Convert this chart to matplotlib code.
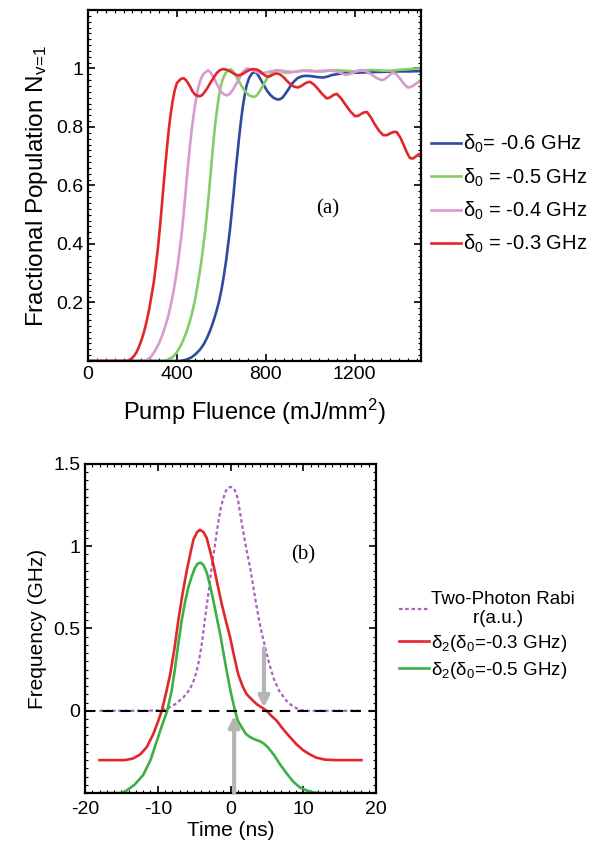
import matplotlib
matplotlib.use("Agg")
import matplotlib.pyplot as plt
from matplotlib.ticker import MultipleLocator

plt.rcParams["font.family"] = ["Liberation Sans", "DejaVu Sans"]
plt.rcParams["mathtext.fontset"] = "custom"
plt.rcParams["mathtext.rm"] = "Liberation Sans"
plt.rcParams["mathtext.it"] = "Liberation Sans:italic"
plt.rcParams["mathtext.bf"] = "Liberation Sans:bold"
plt.rcParams["axes.unicode_minus"] = False

# ---- panel (a): fractional population vs pump fluence (mJ/mm^2) ----
blue_x = [0, 414, 440, 465, 485, 503, 519, 535, 550, 564, 578, 590, 601, 611, 621, 630, 639, 647,
          655, 662, 670, 678, 686, 694, 703, 713, 725, 738, 752, 763, 775, 790, 805, 820, 835, 848,
          861, 875, 890, 903, 915, 930, 945, 962, 980, 1000, 1020, 1040, 1059, 1080, 1100, 1125,
          1150, 1185, 1220, 1260, 1300, 1350, 1400, 1450, 1500]
blue_y = [0, 0, 0.004, 0.012, 0.024, 0.038, 0.055, 0.078, 0.105, 0.135, 0.17, 0.205, 0.245, 0.29,
          0.34, 0.395, 0.45, 0.51, 0.57, 0.63, 0.69, 0.75, 0.805, 0.855, 0.9, 0.94, 0.968, 0.983,
          0.989, 0.98, 0.965, 0.945, 0.925, 0.91, 0.9, 0.895, 0.894, 0.9, 0.915, 0.93, 0.945, 0.958,
          0.968, 0.973, 0.975, 0.974, 0.972, 0.97, 0.969, 0.973, 0.978, 0.981, 0.984, 0.985, 0.986,
          0.987, 0.988, 0.989, 0.99, 0.99, 0.991]

green_x = [0, 338, 360, 380, 398, 414, 428, 442, 455, 467, 479, 490, 500, 510, 519, 528, 536, 543,
           550, 557, 564, 571, 579, 587, 596, 606, 620, 631, 642, 653, 665, 680, 695, 710, 725, 738,
           750, 762, 775, 790, 805, 820, 835, 849, 870, 890, 915, 940, 970, 1000, 1030, 1060, 1090,
           1120, 1160, 1200, 1240, 1280, 1320, 1360, 1395, 1430, 1465, 1500]
green_y = [0, 0, 0.005, 0.013, 0.028, 0.048, 0.07, 0.097, 0.127, 0.16, 0.2, 0.245, 0.29, 0.34,
           0.395, 0.45, 0.51, 0.565, 0.625, 0.685, 0.745, 0.8, 0.85, 0.895, 0.935, 0.963, 0.985,
           0.994, 0.997, 0.99, 0.975, 0.955, 0.935, 0.919, 0.908, 0.904, 0.903, 0.91, 0.925, 0.945,
           0.965, 0.98, 0.99, 0.994, 0.99, 0.985, 0.987, 0.99, 0.993, 0.993, 0.99, 0.99, 0.993,
           0.994, 0.992, 0.99, 0.993, 0.995, 0.993, 0.992, 0.995, 0.997, 0.999, 1.0]

pink_x = [0, 248, 265, 280, 295, 309, 322, 335, 348, 360, 372, 384, 394, 404, 413, 422, 430, 437,
          444, 452, 460, 468, 477, 486, 496, 507, 520, 541, 553, 565, 580, 595, 610, 625, 637, 650,
          665, 680, 697, 714, 730, 745, 763, 782, 800, 820, 845, 870, 895, 920, 945, 970, 995, 1020,
          1045, 1070, 1095, 1120, 1140, 1160, 1178, 1195, 1212, 1230, 1253, 1275, 1298, 1320, 1335,
          1350, 1362, 1374, 1390, 1405, 1422, 1440, 1455, 1470, 1485, 1500]
pink_y = [0, 0, 0.004, 0.012, 0.027, 0.045, 0.065, 0.09, 0.12, 0.15, 0.19, 0.235, 0.28, 0.33,
          0.385, 0.44, 0.5, 0.56, 0.62, 0.685, 0.745, 0.8, 0.85, 0.895, 0.935, 0.963, 0.982, 0.994,
          0.985, 0.97, 0.947, 0.925, 0.912, 0.908, 0.913, 0.925, 0.945, 0.965, 0.988, 1.0, 0.998,
          0.993, 0.986, 0.983, 0.986, 0.99, 0.993, 0.993, 0.99, 0.988, 0.99, 0.992, 0.991, 0.99,
          0.992, 0.993, 0.992, 0.99, 0.984, 0.978, 0.981, 0.986, 0.992, 0.995, 0.99, 0.98, 0.968,
          0.96, 0.963, 0.972, 0.981, 0.987, 0.978, 0.965, 0.947, 0.935, 0.937, 0.945, 0.953, 0.96]

red_x = [0, 174, 190, 205, 218, 230, 242, 254, 265, 276, 286, 296, 306, 315, 324, 332, 340, 348,
         356, 364, 372, 381, 390, 400, 414, 423, 432, 441, 450, 460, 470, 480, 490, 504, 515, 525,
         537, 550, 565, 580, 593, 607, 623, 640, 657, 675, 692, 710, 727, 744, 760, 775, 790, 806,
         818, 830, 841, 852, 866, 880, 895, 910, 927, 945, 960, 975, 988, 1000, 1017, 1035, 1055,
         1074, 1087, 1100, 1110, 1120, 1140, 1160, 1181, 1202, 1216, 1230, 1243, 1256, 1273, 1290,
         1310, 1329, 1345, 1360, 1375, 1389, 1405, 1420, 1435, 1449, 1462, 1475, 1488, 1500]
red_y = [0, 0, 0.005, 0.015, 0.03, 0.05, 0.075, 0.105, 0.14, 0.18, 0.225, 0.27, 0.33, 0.39, 0.46,
         0.53, 0.6, 0.67, 0.735, 0.795, 0.845, 0.89, 0.925, 0.95, 0.962, 0.966, 0.966, 0.96, 0.95,
         0.937, 0.922, 0.912, 0.907, 0.905, 0.91, 0.92, 0.933, 0.95, 0.968, 0.985, 0.994, 0.998,
         0.996, 0.99, 0.982, 0.976, 0.98, 0.988, 0.995, 0.998, 0.996, 0.99, 0.98, 0.972, 0.973,
         0.978, 0.982, 0.983, 0.979, 0.97, 0.958, 0.947, 0.938, 0.935, 0.94, 0.948, 0.953, 0.954,
         0.945, 0.93, 0.912, 0.898, 0.9, 0.907, 0.911, 0.913, 0.897, 0.875, 0.853, 0.837, 0.838,
         0.845, 0.85, 0.851, 0.833, 0.81, 0.787, 0.772, 0.772, 0.778, 0.783, 0.783, 0.765, 0.74,
         0.713, 0.694, 0.692, 0.699, 0.706, 0.71]

labels_a = ["δ$_0$= -0.6 GHz", "δ$_0$ = -0.5 GHz", "δ$_0$ = -0.4 GHz", "δ$_0$ = -0.3 GHz"]
colors_a = ["#2c4c9e", "#86cc68", "#d99ad2", "#e3262a"]

# ---- panel (b): frequencies (GHz) vs time (ns) ----
rabi_t = [-18, -12, -10, -8.8, -7.6, -6.5, -5.6, -4.9, -4.4, -4.0, -3.65, -3.3, -2.9, -2.6, -2.1,
          -1.7, -1.35, -1.0, -0.6, -0.3, 0.0, 0.3, 0.6, 1.0, 1.55, 2.1, 2.7, 3.15, 3.6, 4.15, 4.75,
          5.3, 5.9, 6.7, 7.7, 8.6, 9.6, 10.5, 18]
rabi_y = [0, 0, 0.002, 0.01, 0.04, 0.08, 0.13, 0.2, 0.29, 0.39, 0.51, 0.63, 0.76, 0.87, 1.02,
          1.14, 1.23, 1.29, 1.34, 1.357, 1.36, 1.357, 1.34, 1.29, 1.14, 1.0, 0.87, 0.75, 0.63, 0.5,
          0.39, 0.29, 0.2, 0.12, 0.06, 0.025, 0.005, 0, 0]

d2_03_t = [-18, -14.5, -13.4, -12.4, -11.5, -10.6, -10.0, -9.45, -8.9, -8.3, -7.7, -7.17, -6.6,
           -6.02, -5.5, -5.1, -4.6, -4.2, -3.7, -3.27, -2.8, -2.36, -1.8, -1.21, -0.6, -0.07, 0.5,
           1.07, 1.65, 2.23, 2.9, 3.6, 4.3, 4.97, 5.6, 6.34, 7.2, 8.17, 9.1, 10, 10.9, 11.8, 13,
           14.5, 18]
d2_03_y = [-0.3, -0.3, -0.29, -0.265, -0.22, -0.14, -0.07, 0.0, 0.1, 0.22, 0.38, 0.55, 0.71,
           0.85, 0.96, 1.04, 1.085, 1.1, 1.085, 1.05, 0.97, 0.89, 0.77, 0.65, 0.54, 0.45, 0.33,
           0.22, 0.15, 0.1, 0.07, 0.04, 0.02, 0.0, -0.03, -0.06, -0.11, -0.16, -0.205, -0.24,
           -0.265, -0.285, -0.297, -0.3, -0.3]

d2_05_t = [-18, -15, -14.3, -13.2, -12, -11, -10.1, -9.5, -8.7, -8.1, -7.62, -7.2, -6.7, -6.25,
           -5.8, -5.3, -4.88, -4.5, -4.1, -3.7, -3.27, -2.8, -2.36, -1.9, -1.44, -1.0, -0.52,
           0.05, 0.62, 1.0, 1.54, 2.1, 2.68, 3.4, 4.05, 4.6, 5.2, 6.0, 6.8, 7.7, 8.6, 9.5, 10.5,
           11.5, 12.3, 14, 18]
d2_05_y = [-0.5, -0.5, -0.485, -0.45, -0.39, -0.3, -0.18, -0.1, 0.0, 0.12, 0.26, 0.4, 0.55, 0.66,
           0.75, 0.82, 0.87, 0.895, 0.9, 0.885, 0.84, 0.76, 0.67, 0.57, 0.47, 0.36, 0.24, 0.11,
           0.0, -0.06, -0.1, -0.14, -0.16, -0.175, -0.185, -0.2, -0.225, -0.27, -0.325, -0.38,
           -0.43, -0.465, -0.485, -0.497, -0.5, -0.5, -0.5]

arrow_t = [0.5, 4.6]
arrow_from = [-0.5, 0.38]
arrow_to = [-0.03, 0.02]


def style_axes(ax, size):
    for s in ax.spines.values():
        s.set_linewidth(1.6)
    ax.tick_params(which="both", direction="in", top=True, right=True, labelsize=size)
    ax.tick_params(which="major", length=5, width=1.2)
    ax.tick_params(which="minor", length=2.5, width=0.8)


fig = plt.figure(figsize=(5.95, 8.46), dpi=100)

ax1 = fig.add_axes([0.148, 0.5733, 0.560, 0.4149])
curves_a = [(blue_x, blue_y), (green_x, green_y), (pink_x, pink_y), (red_x, red_y)]
for (x, y), c, lab in zip(curves_a, colors_a, labels_a):
    ax1.plot(x, y, color=c, lw=1.9, label=lab)
ax1.set_xlim(0, 1500)
ax1.set_ylim(0, 1.2)
ax1.set_xticks([0, 400, 800, 1200])
ax1.set_yticks([0.2, 0.4, 0.6, 0.8, 1.0])
ax1.set_yticklabels(["0.2", "0.4", "0.6", "0.8", "1"])
ax1.xaxis.set_minor_locator(MultipleLocator(40))
ax1.yaxis.set_minor_locator(MultipleLocator(0.02))
style_axes(ax1, 14)
ax1.set_xlabel(r"Pump Fluence (mJ/mm$^2$)", fontsize=17, labelpad=10)
ax1.set_ylabel(r"Fractional Population N$_{\mathrm{v\!=\!1}}$", fontsize=17.5, labelpad=4)
ax1.text(1080, 0.52, "(a)", family="Liberation Serif", fontsize=15, ha="center", va="center")
ax1.legend(loc="center left", bbox_to_anchor=(1.03, 0.475), frameon=False, fontsize=14.5,
           handlelength=1.5, handletextpad=0.1, labelspacing=0.55, borderpad=0, borderaxespad=0)

ax2 = fig.add_axes([0.1429, 0.0626, 0.489, 0.389])
ax2.plot(rabi_t, rabi_y, color="#a862c4", lw=1.6, ls=(0, (1.6, 1.2)),
         label="Two-Photon Rabi\n        r(a.u.)")
ax2.plot(d2_03_t, d2_03_y, color="#e3262a", lw=1.9, label="δ$_2$(δ$_0$=-0.3 GHz)")
ax2.plot(d2_05_t, d2_05_y, color="#3cb043", lw=1.9, label="δ$_2$(δ$_0$=-0.5 GHz)")
ax2.axhline(0, color="black", lw=1.5, ls=(0, (5, 3.5)))
for t, y0, y1 in zip(arrow_t, arrow_from, arrow_to):
    ax2.annotate("", xy=(t, y1), xytext=(t, y0),
                 arrowprops=dict(arrowstyle="-|>", color="#b5b5b5", lw=3, mutation_scale=16,
                                 shrinkA=0, shrinkB=0))
ax2.set_xlim(-20, 20)
ax2.set_ylim(-0.5, 1.5)
ax2.set_xticks([-20, -10, 0, 10, 20])
ax2.set_yticks([0, 0.5, 1, 1.5])
ax2.set_yticklabels(["0", "0.5", "1", "1.5"])
ax2.xaxis.set_minor_locator(MultipleLocator(1))
ax2.yaxis.set_minor_locator(MultipleLocator(0.05))
style_axes(ax2, 14)
ax2.tick_params(axis="x", pad=6)
ax2.set_xlabel("Time (ns)", fontsize=15, labelpad=2)
ax2.set_ylabel("Frequency (GHz)", fontsize=15, labelpad=4)
ax2.text(10, 0.945, "(b)", family="Liberation Serif", fontsize=15, ha="center", va="center")
ax2.legend(loc="center left", bbox_to_anchor=(1.08, 0.478), frameon=False, fontsize=13.5,
           handlelength=1.6, handletextpad=0.1, labelspacing=0.3, borderpad=0, borderaxespad=0)

fig.savefig("out.png", dpi=100)
